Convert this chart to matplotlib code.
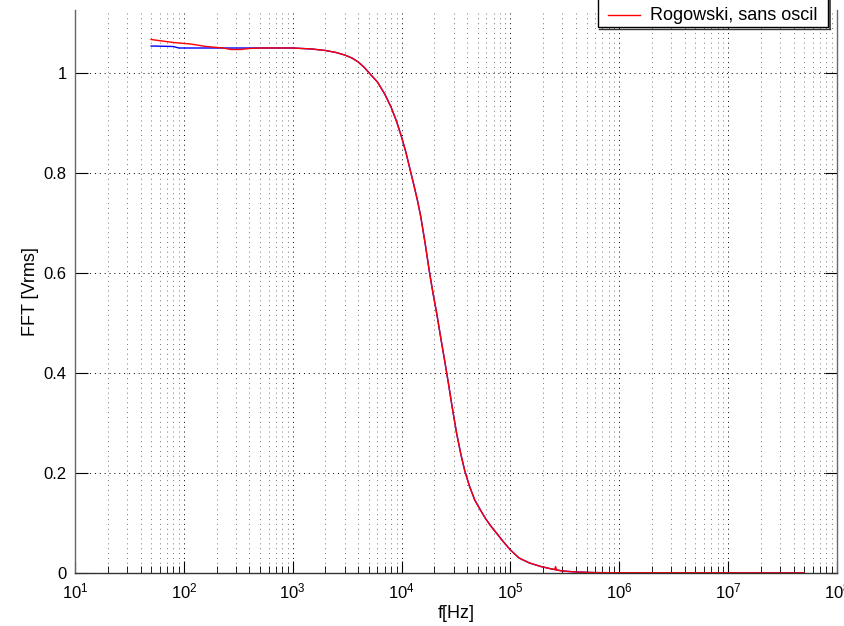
import math
import matplotlib
matplotlib.use("Agg")
import matplotlib.pyplot as plt
from matplotlib.ticker import LogLocator, FixedLocator, NullFormatter
from matplotlib.patches import Rectangle
from matplotlib.lines import Line2D

plt.rcParams['font.family'] = ['Liberation Sans', 'DejaVu Sans']
plt.rcParams['mathtext.default'] = 'regular'

# ---- data ----
# common roll-off part (Hz, Vrms)
freq_common = [1000, 1500, 2000, 2500, 3000, 3500, 4000, 4500, 5000, 6000, 7000,
               8000, 9000, 10000, 11000, 12000, 13000, 14000, 15000, 16500, 18000,
               19500, 21000, 23000, 25000, 27000, 29000, 32000, 35000, 38000,
               42000, 47000, 53000, 59000, 66000, 75000, 85000, 100000, 120000,
               150000, 190000, 240000]
val_common = [1.050, 1.048, 1.045, 1.041, 1.036, 1.030, 1.022, 1.012, 1.001, 0.982,
              0.958, 0.932, 0.903, 0.872, 0.840, 0.806, 0.775, 0.745, 0.713, 0.658,
              0.603, 0.558, 0.520, 0.468, 0.422, 0.378, 0.335, 0.280, 0.238, 0.205,
              0.174, 0.146, 0.126, 0.109, 0.094, 0.079, 0.064, 0.046, 0.030,
              0.020, 0.013, 0.008]

freq_blue = [50, 80, 90, 100, 200, 500, 800] + freq_common + [300000, 400000, 600000, 1e6, 1e7, 5e7]
val_blue = [1.054, 1.053, 1.050, 1.050, 1.050, 1.050, 1.050] + val_common + [0.004, 0.002, 0.0008, 0.0005, 0.0004, 0.0003]

freq_red = [50, 80, 115, 160, 230, 270, 330, 400, 500, 800] + freq_common + \
           [255000, 260000, 265000, 300000, 400000, 600000, 1e6, 1e7, 5e7]
val_red = [1.067, 1.061, 1.058, 1.053, 1.050, 1.047, 1.047, 1.049, 1.050, 1.050] + val_common + \
          [0.007, 0.013, 0.006, 0.004, 0.002, 0.0008, 0.0005, 0.0004, 0.0003]

legend_label = "Rogowski, sans oscil"
x_label = "f[Hz]"
y_label = "FFT [Vrms]"
x_ticks = [1e1, 1e2, 1e3, 1e4, 1e5, 1e6, 1e7, 1e8]
y_ticks = [0, 0.2, 0.4, 0.6, 0.8, 1]
y_ticklabels = ["0", "0.2", "0.4", "0.6", "0.8", "1"]

W, H = 844, 626
fig = plt.figure(figsize=(W / 100, H / 100), dpi=100)
left, right, bottom, top = 75, 837, 573, 10
ax = fig.add_axes([left / W, 1 - bottom / H, (right - left) / W, (bottom - top) / H])

ax.plot(freq_blue, val_blue, color='#0000ff', lw=1.0)
ax.plot(freq_red, val_red, color='#ff0000', lw=1.0)

ax.set_xscale('log')
ax.set_xlim(10, 1e8)
ax.set_ylim(0, (bottom - top) / 500)

ax.xaxis.set_major_locator(FixedLocator(x_ticks))
ax.set_xticklabels([r'$10^{%d}$' % round(math.log10(v)) for v in x_ticks])
ax.xaxis.set_minor_locator(LogLocator(base=10, subs=range(2, 10), numticks=100))
ax.xaxis.set_minor_formatter(NullFormatter())
ax.yaxis.set_major_locator(FixedLocator(y_ticks))
ax.set_yticklabels(y_ticklabels)

ax.grid(True, which='major', axis='both', color='black', linestyle=(0, (1, 4)), lw=0.7)
ax.grid(True, which='minor', axis='x', color='0.45', linestyle=(0, (1, 4)), lw=0.7)

ax.tick_params(which='both', direction='in', top=False, right=True, labelsize=12,
               colors='black', pad=6)
ax.tick_params(which='major', length=9, width=0.8)
ax.tick_params(which='minor', length=5, width=0.6)

for s in ['left', 'right']:
    ax.spines[s].set_color('0.4')
    ax.spines[s].set_linewidth(1.0)
ax.spines['bottom'].set_color('0.2')
ax.spines['bottom'].set_linewidth(1.0)
ax.spines['top'].set_visible(False)

ax.set_xlabel(x_label, fontsize=13, labelpad=3)
ax.set_ylabel(y_label, fontsize=13, labelpad=3)

# legend: frame drawn in figure pixels, top edge lies above the figure (cropped like the reference)
def fx(px):
    return px / W

def fy(py):
    return 1 - py / H

frame = Rectangle((fx(598), fy(27)), fx(828) - fx(598), fy(-20) - fy(27),
                  transform=fig.transFigure, facecolor='white', edgecolor='black',
                  lw=1.0, zorder=5, clip_on=False)
fig.patches.append(frame)
fig.lines.append(Line2D([fx(829.5), fx(829.5)], [fy(28.5), fy(-5)], transform=fig.transFigure,
                        color='0.2', lw=1.2, zorder=5))
fig.lines.append(Line2D([fx(599), fx(829.5)], [fy(28.5), fy(28.5)], transform=fig.transFigure,
                        color='0.2', lw=1.0, zorder=5))
fig.lines.append(Line2D([fx(608), fx(640)], [fy(15), fy(15)], transform=fig.transFigure,
                        color='#ff0000', lw=1.0, zorder=6))
fig.text(fx(650), fy(15), legend_label, fontsize=13, ha='left', va='center', zorder=6)

fig.savefig("out.png", dpi=100)
